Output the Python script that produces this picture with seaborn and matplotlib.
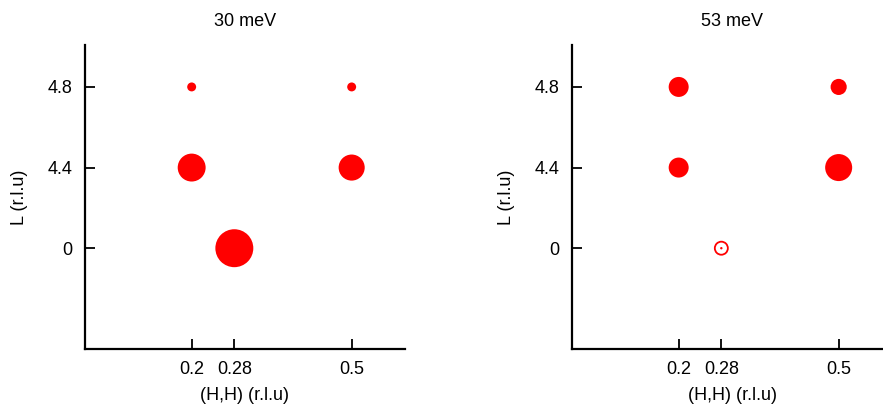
import numpy as np
import pandas as pd
import matplotlib
matplotlib.use('Agg')
import matplotlib.pyplot as plt
import seaborn as sns

sns.set_style('ticks')
plt.rcParams['font.family'] = ['Liberation Sans', 'DejaVu Sans']
plt.rcParams['text.color'] = 'black'
plt.rcParams['axes.labelcolor'] = 'black'
plt.rcParams['xtick.color'] = 'black'
plt.rcParams['ytick.color'] = 'black'

# L values sit on an evenly spaced (categorical) axis
l_labels = ['0', '4.4', '4.8']
h_ticks = [0.2, 0.28, 0.5]
h_ticklabels = ['0.2', '0.28', '0.5']

# peak positions and intensities (~ marker area)
titles = ['30 meV', '53 meV']
h_30 = [0.2, 0.5, 0.2, 0.5, 0.28]
l_30 = ['4.8', '4.8', '4.4', '4.4', '0']
int_30 = [8, 8, 78, 68, 144]

h_53 = [0.2, 0.5, 0.2, 0.5]
l_53 = ['4.8', '4.8', '4.4', '4.4']
int_53 = [40, 26, 40, 73]

# weak peak, drawn as open circle in the 53 meV panel
h_53_weak = [0.28]
l_53_weak = ['0']
int_53_weak = [17]

max_int = 144
area_per_int = 5.184  # marker area (pt^2) per intensity unit


def make_df(h, l, inten):
    df = pd.DataFrame({'H': h, 'L': l, 'I': inten})
    df['Lpos'] = [l_labels.index(v) for v in df['L']]
    return df


fig = plt.figure(figsize=(8.83, 4.13), dpi=100)
ax1 = fig.add_axes([85 / 883, 64 / 413, 320 / 883, 304 / 413])
ax2 = fig.add_axes([572 / 883, 64 / 413, 320 / 883, 304 / 413])

panels = [(ax1, make_df(h_30, l_30, int_30), None),
          (ax2, make_df(h_53, l_53, int_53), make_df(h_53_weak, l_53_weak, int_53_weak))]

for (ax, df, weak), title in zip(panels, titles):
    sns.scatterplot(data=df, x='H', y='Lpos', size='I', sizes=(0, max_int * area_per_int),
                    size_norm=(0, max_int), color='#ff0000', edgecolor='none',
                    legend=False, ax=ax, clip_on=False)
    if weak is not None:
        sns.scatterplot(data=weak, x='H', y='Lpos', s=weak['I'].iloc[0] * area_per_int,
                        marker='o', facecolors='none', edgecolors='#ff0000',
                        linewidth=1.3, legend=False, ax=ax)
        sns.scatterplot(data=weak, x='H', y='Lpos', s=3, color='#ff0000',
                        edgecolor='none', legend=False, ax=ax)

    ax.set_xlim(0, 0.6)
    ax.set_ylim(-1.25, 2.52)
    ax.set_xticks(h_ticks)
    ax.set_xticklabels(h_ticklabels)
    ax.set_yticks(range(len(l_labels)))
    ax.set_yticklabels(l_labels)
    ax.tick_params(direction='in', length=7, width=1.3, pad=9, labelsize=13,
                   color='black', labelcolor='black')
    sns.despine(ax=ax)
    for side in ['left', 'bottom']:
        ax.spines[side].set_linewidth(1.6)
        ax.spines[side].set_color('black')
    ax.set_xlabel('(H,H) (r.l.u)', fontsize=13, labelpad=6)
    ax.set_ylabel('L (r.l.u)', fontsize=13, labelpad=14)
    ax.set_title(title, fontsize=13, pad=14)

fig.savefig('out.png', dpi=100)
